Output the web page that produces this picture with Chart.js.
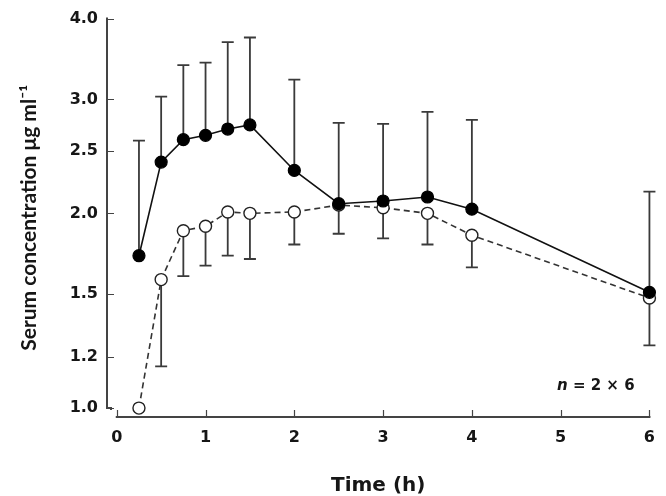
<!DOCTYPE html>
<html lang="en">
<head>
<meta charset="UTF-8">
<script src="https://cdn.jsdelivr.net/npm/chart.js@4.4.0/dist/chart.umd.min.js"></script>
<title>Serum concentration</title>
<style>
  html, body { margin: 0; padding: 0; background: #fff; }
</style>
</head>
<body>
<canvas id="myChart" width="666" height="496"></canvas>
<script>
// sampling times (h)
const times = [0.25, 0.5, 0.75, 1, 1.25, 1.5, 2, 2.5, 3, 3.5, 4, 6];
// filled circles: mean and upper error bar
const filledMean = [1.72, 2.40, 2.60, 2.64, 2.70, 2.74, 2.33, 2.07, 2.09, 2.12, 2.03, 1.51];
const filledUpper = [2.59, 3.03, 3.39, 3.42, 3.68, 3.74, 3.22, 2.76, 2.75, 2.87, 2.79, 2.16];
// open circles: mean and lower error bar
const openMean = [1.00, 1.58, 1.88, 1.91, 2.01, 2.00, 2.01, 2.06, 2.04, 2.00, 1.85, 1.48];
const openLower = [null, 1.16, 1.60, 1.66, 1.72, 1.70, 1.79, 1.86, 1.83, 1.79, 1.65, 1.25];
const xTicks = [0, 1, 2, 3, 4, 5, 6];
const yTicks = [1.0, 1.2, 1.5, 2.0, 2.5, 3.0, 4.0];

const tickFont = { family: 'DejaVu Sans', weight: 'bold', size: 16 };
const textColor = '#161616';
const axisColor = '#444';

const decor = {
  id: 'decor',
  beforeDatasetsDraw(chart) {
    const { ctx, scales: { x, y } } = chart;
    ctx.save();
    // axes, drawn detached like the original
    ctx.strokeStyle = axisColor;
    ctx.lineWidth = 2;
    const yl = chart.chartArea.left;
    const yb = y.getPixelForValue(yTicks[0]);
    const xb = chart.chartArea.bottom;
    ctx.beginPath();
    ctx.moveTo(yl, y.getPixelForValue(yTicks[yTicks.length - 1]) - 1);
    ctx.lineTo(yl, yb);
    ctx.lineTo(yl + 4, yb);
    ctx.lineTo(yl + 4, yb + 2);
    ctx.moveTo(x.getPixelForValue(xTicks[0]) - 1, xb);
    ctx.lineTo(x.getPixelForValue(xTicks[xTicks.length - 1]) + 1, xb);
    ctx.stroke();
    ctx.lineWidth = 1.2;
    ctx.beginPath();
    yTicks.forEach(v => {
      const py = Math.round(y.getPixelForValue(v)) + 0.5;
      ctx.moveTo(yl, py);
      ctx.lineTo(yl + 7, py);
    });
    xTicks.forEach(v => {
      const px = Math.round(x.getPixelForValue(v)) + 0.5;
      ctx.moveTo(px, xb);
      ctx.lineTo(px, xb - 7);
    });
    ctx.stroke();

    // error bars
    ctx.strokeStyle = '#3a3a3a';
    ctx.lineWidth = 1.8;
    const bar = (t, from, to) => {
      if (to == null) return;
      const px = x.getPixelForValue(t);
      const p0 = y.getPixelForValue(from);
      const p1 = y.getPixelForValue(to);
      ctx.beginPath();
      ctx.moveTo(px, p0);
      ctx.lineTo(px, p1);
      ctx.moveTo(px - 6, p1);
      ctx.lineTo(px + 6, p1);
      ctx.stroke();
    };
    times.forEach((t, i) => {
      bar(t, filledMean[i], filledUpper[i]);
      bar(t, openMean[i], openLower[i]);
    });
    ctx.restore();
  },
  afterDraw(chart) {
    const { ctx } = chart;
    ctx.save();
    ctx.fillStyle = textColor;
    ctx.textBaseline = 'alphabetic';
    let px = 557;
    const py = 390;
    ctx.font = 'italic bold 15px "DejaVu Sans"';
    ctx.fillText('n', px, py);
    px += ctx.measureText('n').width;
    ctx.font = 'bold 15px "DejaVu Sans"';
    ctx.fillText(' = 2 × 6', px, py);
    ctx.restore();
  }
};

const ctx = document.getElementById('myChart').getContext('2d');
new Chart(ctx, {
  type: 'line',
  data: {
    datasets: [
      {
        label: 'filled',
        data: times.map((t, i) => ({ x: t, y: filledMean[i] })),
        borderColor: '#111',
        borderWidth: 1.6,
        pointRadius: 6,
        pointBorderWidth: 1.2,
        pointBackgroundColor: '#000',
        pointBorderColor: '#000',
        tension: 0
      },
      {
        label: 'open',
        data: times.map((t, i) => ({ x: t, y: openMean[i] })),
        borderColor: '#333',
        borderWidth: 1.6,
        borderDash: [6, 4],
        pointRadius: 6,
        pointBorderWidth: 1.4,
        pointBackgroundColor: '#fff',
        pointBorderColor: '#222',
        tension: 0
      }
    ]
  },
  options: {
    responsive: false,
    animation: false,
    clip: false,
    layout: { padding: { top: 13, right: 7, left: 0, bottom: 0 } },
    plugins: { legend: { display: false }, tooltip: { enabled: false } },
    scales: {
      x: {
        type: 'linear',
        min: -0.11,
        max: 6,
        afterFit: s => { s.height = 79; },
        afterBuildTicks: s => { s.ticks = xTicks.map(v => ({ value: v })); },
        grid: { display: false, drawTicks: false },
        border: { display: false },
        ticks: { font: tickFont, color: textColor, padding: 11, autoSkip: false, maxRotation: 0 },
        title: {
          display: true,
          text: 'Time (h)',
          color: textColor,
          font: { family: 'DejaVu Sans', weight: 'bold', size: 20, lineHeight: 1.0 },
          padding: { top: 0, bottom: 0 }
        }
      },
      y: {
        type: 'logarithmic',
        min: 0.9688,
        max: 4,
        afterFit: s => { s.width = 107; },
        afterBuildTicks: s => { s.ticks = yTicks.map(v => ({ value: v })); },
        grid: { display: false, drawTicks: false },
        border: { display: false },
        ticks: {
          font: tickFont, color: textColor, padding: 9, autoSkip: false,
          callback: v => Number(v).toFixed(1)
        },
        title: {
          display: true,
          text: 'Serum concentration μg ml⁻¹',
          color: textColor,
          font: { family: 'Lato', weight: 'bold', size: 21 },
          padding: { top: 17, bottom: 0 }
        }
      }
    }
  },
  plugins: [decor]
});
</script>
</body>
</html>
